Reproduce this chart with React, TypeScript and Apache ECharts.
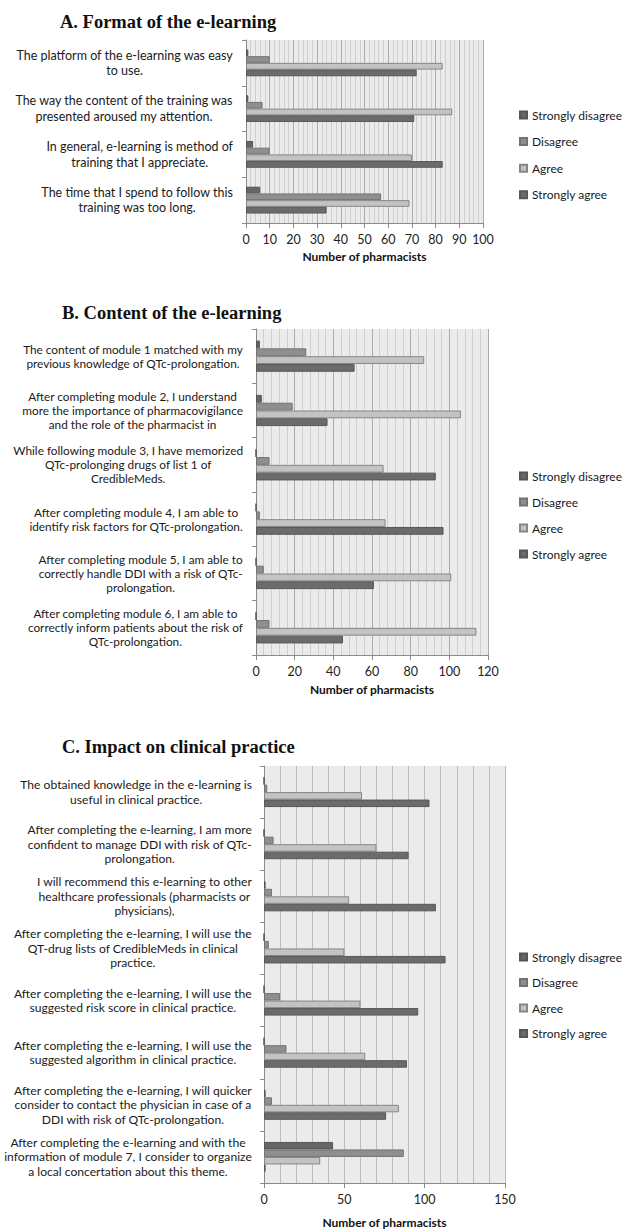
import React, { useEffect, useRef } from "react";
import * as echarts from "echarts";

const seriesNames = ["Strongly disagree", "Disagree", "Agree", "Strongly agree"];

const catsA = [
  "The platform of the e-learning was easy\nto use.",
  "The way the content of the training was\npresented aroused my attention.",
  "In general, e-learning is method of\ntraining that I appreciate.",
  "The time that I spend to follow this\ntraining was too long.",
];
const sdA = [1, 1, 3, 6];
const dA = [10, 7, 10, 57];
const agA = [83, 87, 70, 69];
const saA = [72, 71, 83, 34];

const catsB = [
  "The content of module 1 matched with my\nprevious knowledge of QTc-prolongation.",
  "After completing module 2, I understand\nmore the importance of pharmacovigilance\nand the role of the pharmacist in",
  "While following module 3, I have memorized\nQTc-prolonging drugs of list 1 of\nCredibleMeds.",
  "After completing module 4, I am able to\nidentify risk factors for QTc-prolongation.",
  "After completing module 5, I am able to\ncorrectly handle DDI with a risk of QTc-\nprolongation.",
  "After completing module 6, I am able to\ncorrectly inform patients about the risk of\nQTc-prolongation.",
];
const sdB = [2, 3, 0, 0, 0, 0];
const dB = [26, 19, 7, 2, 4, 7];
const agB = [87, 106, 66, 67, 101, 114];
const saB = [51, 37, 93, 97, 61, 45];

const catsC = [
  "The obtained knowledge in the e-learning is\nuseful in clinical practice.",
  "After completing the e-learning, I am more\nconfident to manage DDI with risk of QTc-\nprolongation.",
  "I will recommend this e-learning to other\nhealthcare professionals (pharmacists or\nphysicians),",
  "After completing the e-learning, I will use the\nQT-drug lists of CredibleMeds in clinical\npractice.",
  "After completing the e-learning, I will use the\nsuggested risk score in clinical practice.",
  "After completing the e-learning, I will use the\nsuggested algorithm in clinical practice.",
  "After completing the e-learning, I will quicker\nconsider to contact the physician in case of a\nDDI with risk of QTc-prolongation.",
  "After completing the e-learning and with the\ninformation of module 7, I consider to organize\na local concertation about this theme.",
];
const sdC = [0, 0, 1, 0, 0, 0, 1, 43];
const dC = [2, 6, 5, 3, 10, 14, 5, 87];
const agC = [61, 70, 53, 50, 60, 63, 84, 35];
const saC = [103, 90, 107, 113, 96, 89, 76, 1];

const xMaxA = 100, xIntA = 10;
const xMaxB = 120, xIntB = 20;
const xMaxC = 150, xIntC = 50;

const fills = ["#666666", "#8f8f8f", "#c3c3c3", "#6b6b6b"];
const borders = ["#555555", "#727272", "#868686", "#575757"];

const SANS = "Lato, 'Open Sans', sans-serif";
const SERIF = "'Liberation Serif', 'DejaVu Serif', serif";

export default function App() {
  const ref = useRef<HTMLDivElement>(null);
  useEffect(() => {
    if (!ref.current) return;
    const chart = echarts.init(ref.current, undefined, { renderer: "svg" });

    const grids = [
      { left: 246, top: 40, width: 237, height: 183 },
      { left: 256, top: 329, width: 232, height: 326 },
      { left: 264, top: 766, width: 241, height: 422 },
    ];
    const panels = [
      { cats: catsA, vals: [sdA, dA, agA, saA], max: xMaxA, int: xIntA, bw: 6.7, fs: 12.5, lh: 15.5, mg: 13, ng: 27 },
      { cats: catsB, vals: [sdB, dB, agB, saB], max: xMaxB, int: xIntB, bw: 7.8, fs: 11.8, lh: 14, mg: 13, ng: 28 },
      { cats: catsC, vals: [sdC, dC, agC, saC], max: xMaxC, int: xIntC, bw: 7.5, fs: 12.1, lh: 14.5, mg: 12, ng: 33 },
    ];

    const xAxis = panels.map((p, i) => ({
      type: "value",
      gridIndex: i,
      min: 0,
      max: p.max,
      interval: p.int,
      name: "Number of pharmacists",
      nameLocation: "middle",
      nameGap: p.ng,
      nameTextStyle: { fontFamily: SANS, fontWeight: "bold", fontSize: 12, color: "#111" },
      axisLine: { show: true, lineStyle: { color: "#8a8a8a", width: 1 } },
      axisTick: { show: true, length: 5, lineStyle: { color: "#8a8a8a" } },
      axisLabel: { fontFamily: SANS, fontSize: 12.5, color: "#222", margin: 10 },
      splitLine: { show: true, lineStyle: { color: i === 2 ? "#bdbdbd" : "#ababab", width: 1 } },
      minorTick: { show: false, splitNumber: 5 },
      minorSplitLine: { show: true, lineStyle: { color: i === 2 ? "#bdbdbd" : "#cfcfcf", width: 1 } },
    }));

    const yAxis = panels.map((p, i) => ({
      type: "category",
      gridIndex: i,
      inverse: true,
      data: p.cats,
      axisLine: { show: true, lineStyle: { color: "#8a8a8a", width: 1 } },
      axisTick: { show: true, length: 4, lineStyle: { color: "#8a8a8a" } },
      axisLabel: {
        interval: 0,
        fontFamily: SANS,
        fontSize: p.fs,
        lineHeight: p.lh,
        color: "#1a1a1a",
        align: "right",
        margin: p.mg,
        formatter: (v: string) =>
          v
            .split("\n")
            .map((l) => `{c|${l}}`)
            .join("\n"),
        rich: {
          c: {
            align: "center",
            fontFamily: SANS,
            fontSize: p.fs,
            lineHeight: p.lh,
            color: "#1a1a1a",
          },
        },
      },
      splitLine: { show: false },
    }));

    const series: any[] = [];
    panels.forEach((p, i) => {
      seriesNames.forEach((name, k) => {
        series.push({
          type: "bar",
          name,
          xAxisIndex: i,
          yAxisIndex: i,
          data: p.vals[k],
          barWidth: p.bw,
          barGap: "0%",
          itemStyle: { color: fills[k], borderColor: borders[k], borderWidth: 1 },
        });
      });
    });

    const legendTops = [103, 464, 945];
    const legendGaps = [12.6, 12, 11.5];
    const legend = legendTops.map((t, i) => ({
      orient: "vertical",
      left: 514,
      top: t,
      itemWidth: 7,
      itemHeight: 7,
      itemGap: legendGaps[i],
      icon: "rect",
      data: seriesNames,
      selectedMode: false,
      textStyle: { fontFamily: SANS, fontSize: 12, color: "#1a1a1a", lineHeight: 14 },
    }));

    const titles = [
      { text: "A. Format of the e-learning", left: 55, top: 7 },
      { text: "B. Content of the e-learning", left: 57, top: 298 },
      { text: "C. Impact on clinical practice", left: 57, top: 732 },
    ].map((t) => ({
      ...t,
      textStyle: { fontFamily: SERIF, fontWeight: "bold", fontSize: 18.5, color: "#111" },
    }));

    chart.setOption({
      animation: false,
      backgroundColor: "#ffffff",
      title: titles,
      legend,
      grid: grids.map((g) => ({ ...g, show: true, backgroundColor: "#ebebeb", borderWidth: 0 })),
      xAxis,
      yAxis,
      series,
    });

    return () => chart.dispose();
  }, []);

  return (
    <div
      ref={ref}
      style={{ position: "absolute", left: 0, top: 0, width: 626, height: 1229 }}
    />
  );
}
